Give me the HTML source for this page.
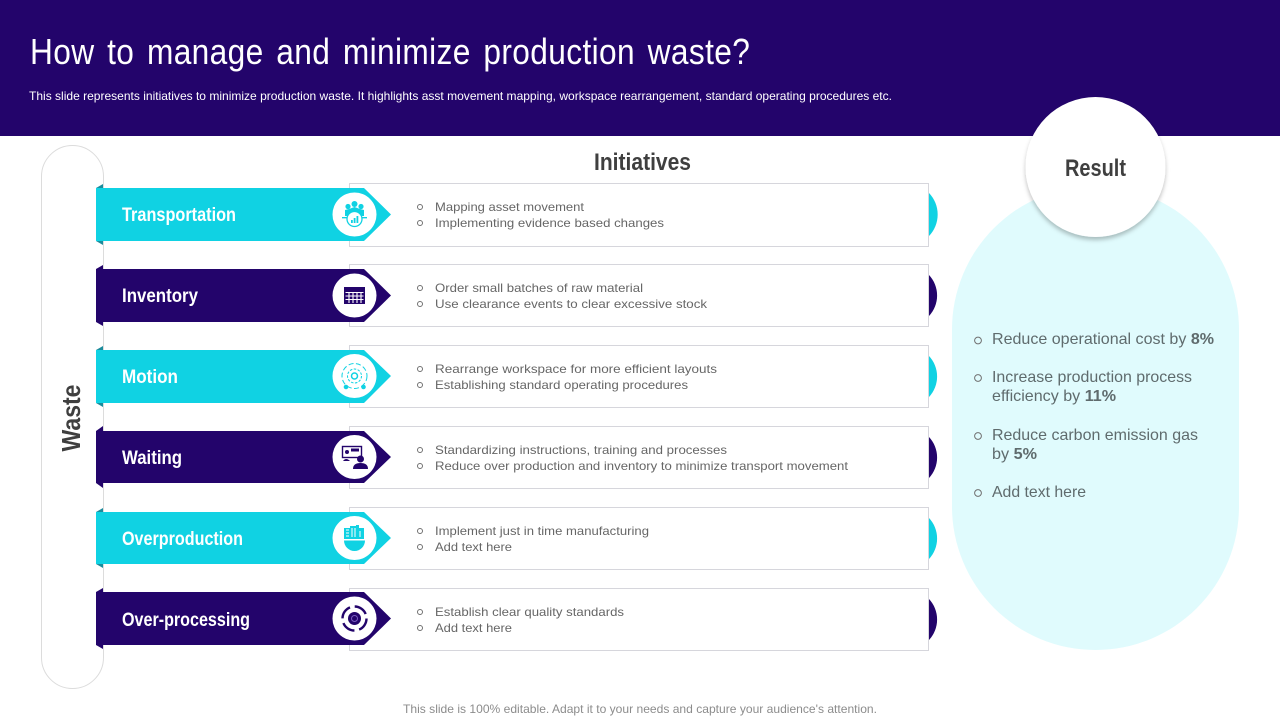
<!DOCTYPE html>
<html lang="en">
<head>
<meta charset="utf-8">
<title>How to manage and minimize production waste?</title>
<style>
html,body{margin:0;padding:0;background:#fff;width:1280px;height:720px;overflow:hidden}
svg{display:block;font-family:"Liberation Sans",sans-serif}
.lbl{font-weight:700;font-size:19px;fill:#fff}
.ln{font-size:12px;fill:#666}
.bul{fill:none;stroke:#707070;stroke-width:1}
.res{font-size:16px;fill:#5f6b6d}
.res tspan{font-weight:700}
.card{fill:#fff;stroke:#d6d6dc;stroke-width:1}
.c{fill:#10d2e3}
.p{fill:#23046b}
.cd{fill:#1b8c9c}
</style>
</head>
<body>
<svg width="1280" height="720" viewBox="0 0 1280 720" xmlns="http://www.w3.org/2000/svg">
<defs>
<filter id="sh" x="-20%" y="-20%" width="140%" height="140%"><feDropShadow dx="0" dy="3" stdDeviation="2" flood-color="#000" flood-opacity=".25"/></filter>
</defs>

<rect x="0" y="0" width="1280" height="136" fill="#23046b"/>
<text transform="translate(30,64) scale(.88,1)" font-size="36" fill="#fff" word-spacing="4" textLength="818" lengthAdjust="spacing">How to manage and minimize production waste?</text>
<text x="29" y="100" font-size="12" fill="#fff" textLength="863" lengthAdjust="spacingAndGlyphs">This slide represents initiatives to minimize production waste. It highlights asst movement mapping, workspace rearrangement, standard operating procedures etc.</text>

<rect x="41.5" y="145.5" width="62" height="543" rx="31" ry="31" fill="#fff" stroke="#dcdcdc"/>
<text transform="translate(80,451.5) rotate(-90)" font-size="26" font-weight="700" fill="#3f3f3f" textLength="67" lengthAdjust="spacingAndGlyphs">Waste</text>
<text x="594" y="170" font-size="24" font-weight="700" fill="#3f3f3f" textLength="97" lengthAdjust="spacingAndGlyphs">Initiatives</text>

<!-- Row 1 -->
<g>
<path d="M929 193A31 31 0 0 1 929 236Z" class="c"/>
<rect x="349.5" y="183.5" width="579" height="63" class="card"/>
<path d="M103 184L96 188V241L103 245Z" class="cd"/>
<path d="M96 188H364L391 214.500L364 241H96Z" class="c"/>
<text x="122" y="221" class="lbl" textLength="114" lengthAdjust="spacingAndGlyphs">Transportation</text>
<circle cx="354.500" cy="214.500" r="22" fill="#fff"/>
<g class="c">
<circle cx="354.500" cy="204" r="3"/><circle cx="348" cy="206.500" r="2.600"/><circle cx="361" cy="206.500" r="2.600"/>
<path d="M345 216v-6l4-1 5.500-2 5.500 2 4 1v6z"/>
<circle cx="354.500" cy="219" r="7.500" fill="#fff" stroke="#10d2e3" stroke-width="1.300"/>
<path d="M351 223h1.800v-3h-1.800zM353.700 223h1.800v-5h-1.800zM356.500 223h1.800v-7h-1.800z"/>
<path d="M342 217h5v1.400h-5zM362 217h5v1.400h-5z"/>
</g>
<circle cx="420" cy="207" r="2.500" class="bul"/>
<text x="435" y="211" class="ln" textLength="149" lengthAdjust="spacingAndGlyphs">Mapping asset movement</text>
<circle cx="420" cy="223" r="2.500" class="bul"/>
<text x="435" y="227" class="ln" textLength="229" lengthAdjust="spacingAndGlyphs">Implementing evidence based changes</text>
</g>

<!-- Row 2 -->
<g>
<path d="M929 275A30 30 0 0 1 929 316Z" class="p"/>
<rect x="349.5" y="264.5" width="579" height="62" class="card"/>
<path d="M103 265L96 269V322L103 326Z" class="p"/>
<path d="M96 269H364L391 295.500L364 322H96Z" class="p"/>
<text x="122" y="302" class="lbl" textLength="76" lengthAdjust="spacingAndGlyphs">Inventory</text>
<circle cx="354.500" cy="295.500" r="22" fill="#fff"/>
<g>
<rect x="344" y="287" width="21" height="17" class="p"/>
<path d="M345.500 292.500h18M345.500 296h18M345.500 299.500h18M349 292v11M353 292v11M357 292v11M361 292v11" stroke="#fff" stroke-width="1.100" fill="none"/>
</g>
<circle cx="420" cy="288" r="2.500" class="bul"/>
<text x="435" y="292" class="ln" textLength="208" lengthAdjust="spacingAndGlyphs">Order small batches of raw material</text>
<circle cx="420" cy="304" r="2.500" class="bul"/>
<text x="435" y="308" class="ln" textLength="272" lengthAdjust="spacingAndGlyphs">Use clearance events to clear excessive stock</text>
</g>

<!-- Row 3 -->
<g>
<path d="M929 356A30 30 0 0 1 929 397Z" class="c"/>
<rect x="349.5" y="345.5" width="579" height="62" class="card"/>
<path d="M103 346L96 350V403L103 407Z" class="cd"/>
<path d="M96 350H364L391 376L364 403H96Z" class="c"/>
<text x="122" y="383" class="lbl" textLength="56" lengthAdjust="spacingAndGlyphs">Motion</text>
<circle cx="354.500" cy="376" r="22" fill="#fff"/>
<g fill="none" stroke="#10d2e3">
<circle cx="354.500" cy="376" r="12.500" stroke-dasharray="5 2.500"/>
<circle cx="354.500" cy="376" r="7" stroke-dasharray="2.500 1.500"/>
<circle cx="354.500" cy="376" r="3" stroke-width="1.500"/>
<circle cx="346" cy="387" r="1.800" fill="#10d2e3"/><circle cx="363.500" cy="387" r="1.800" fill="#10d2e3"/>
</g>
<circle cx="420" cy="369" r="2.500" class="bul"/>
<text x="435" y="373" class="ln" textLength="282" lengthAdjust="spacingAndGlyphs">Rearrange workspace for more efficient layouts</text>
<circle cx="420" cy="385" r="2.500" class="bul"/>
<text x="435" y="389" class="ln" textLength="253" lengthAdjust="spacingAndGlyphs">Establishing standard operating procedures</text>
</g>

<!-- Row 4 -->
<g>
<path d="M929 437A30 30 0 0 1 929 478Z" class="p"/>
<rect x="349.5" y="426.5" width="579" height="62" class="card"/>
<path d="M103 426L96 431V483L103 488Z" class="p"/>
<path d="M96 431H364L391 457L364 483H96Z" class="p"/>
<text x="122" y="464" class="lbl" textLength="60" lengthAdjust="spacingAndGlyphs">Waiting</text>
<circle cx="354.500" cy="457" r="22" fill="#fff"/>
<g>
<rect x="342.500" y="446.500" width="19" height="11" fill="none" stroke="#23046b" stroke-width="1.400"/>
<rect x="351" y="448.500" width="8" height="3" class="p"/>
<circle cx="347" cy="452" r="2" class="p"/>
<circle cx="360.500" cy="459" r="3.500" class="p"/>
<path d="M353 469q0-6 7.500-6t7.500 6z" class="p"/>
<path d="M343 461q3-4 7 0z" class="p"/>
</g>
<circle cx="420" cy="450" r="2.500" class="bul"/>
<text x="435" y="454" class="ln" textLength="292" lengthAdjust="spacingAndGlyphs">Standardizing instructions, training and processes</text>
<circle cx="420" cy="466" r="2.500" class="bul"/>
<text x="435" y="470" class="ln" textLength="413" lengthAdjust="spacingAndGlyphs">Reduce over production and inventory to minimize transport movement</text>
</g>

<!-- Row 5 -->
<g>
<path d="M929 518A30 30 0 0 1 929 559Z" class="c"/>
<rect x="349.5" y="507.5" width="579" height="62" class="card"/>
<path d="M103 508L96 512V564L103 568Z" class="cd"/>
<path d="M96 512H364L391 538L364 564H96Z" class="c"/>
<text x="122" y="545" class="lbl" textLength="121" lengthAdjust="spacingAndGlyphs">Overproduction</text>
<circle cx="354.500" cy="538" r="22" fill="#fff"/>
<g class="c">
<path d="M344 539v-11h6v-2h6v-1h3v3h5v11z"/>
<path d="M344 540.500h21a10.500 10.500 0 0 1-21 0z"/>
<path d="M346 530h3M346 533h3M346 536h3M352 528v9M355 528v9M360 531v6" stroke="#fff" stroke-width="1" fill="none"/>
</g>
<circle cx="420" cy="531" r="2.500" class="bul"/>
<text x="435" y="535" class="ln" textLength="214" lengthAdjust="spacingAndGlyphs">Implement just in time manufacturing</text>
<circle cx="420" cy="547" r="2.500" class="bul"/>
<text x="435" y="551" class="ln" textLength="77" lengthAdjust="spacingAndGlyphs">Add text here</text>
</g>

<!-- Row 6 -->
<g>
<path d="M929 599A30 30 0 0 1 929 640Z" class="p"/>
<rect x="349.5" y="588.5" width="579" height="62" class="card"/>
<path d="M103 588L96 592V645L103 649Z" class="p"/>
<path d="M96 592H364L391 618.500L364 645H96Z" class="p"/>
<text x="122" y="626" class="lbl" textLength="128" lengthAdjust="spacingAndGlyphs">Over-processing</text>
<circle cx="354.500" cy="618.500" r="22" fill="#fff"/>
<g>
<circle cx="354.500" cy="618.500" r="6.500" class="p"/>
<circle cx="354.500" cy="618.500" r="3" fill="none" stroke="#7a5cc0" stroke-width="1"/>
<circle cx="354.500" cy="618.500" r="12" fill="none" stroke="#23046b" stroke-width="2.400" stroke-dasharray="14 4.800"/>
</g>
<circle cx="420" cy="612" r="2.500" class="bul"/>
<text x="435" y="616" class="ln" textLength="189" lengthAdjust="spacingAndGlyphs">Establish clear quality standards</text>
<circle cx="420" cy="628" r="2.500" class="bul"/>
<text x="435" y="632" class="ln" textLength="77" lengthAdjust="spacingAndGlyphs">Add text here</text>
</g>

<!-- Result -->
<rect x="952" y="186" width="287" height="464" rx="143.500" ry="143.500" fill="#e0fbfd"/>
<circle cx="1095.500" cy="167" r="70" fill="#fff" filter="url(#sh)"/>
<text x="1065" y="176" font-size="24" font-weight="700" fill="#3f3f3f" textLength="61" lengthAdjust="spacingAndGlyphs">Result</text>

<circle cx="978" cy="340.500" r="3.400" class="bul"/>
<text x="992" y="344" class="res" textLength="222" lengthAdjust="spacingAndGlyphs">Reduce operational cost by <tspan>8%</tspan></text>
<circle cx="978" cy="378" r="3.400" class="bul"/>
<text x="992" y="382" class="res" textLength="200" lengthAdjust="spacingAndGlyphs">Increase production process</text>
<text x="992" y="401" class="res" textLength="124" lengthAdjust="spacingAndGlyphs">efficiency by <tspan>11%</tspan></text>
<circle cx="978" cy="436" r="3.400" class="bul"/>
<text x="992" y="440" class="res" textLength="206" lengthAdjust="spacingAndGlyphs">Reduce carbon emission gas</text>
<text x="992" y="459" class="res" textLength="45" lengthAdjust="spacingAndGlyphs">by <tspan>5%</tspan></text>
<circle cx="978" cy="493" r="3.400" class="bul"/>
<text x="992" y="497" class="res" textLength="94" lengthAdjust="spacingAndGlyphs">Add text here</text>

<text x="403" y="713" font-size="12" fill="#8c8c8c" textLength="474" lengthAdjust="spacingAndGlyphs">This slide is 100% editable. Adapt it to your needs and capture your audience's attention.</text>
</svg>
</body>
</html>
